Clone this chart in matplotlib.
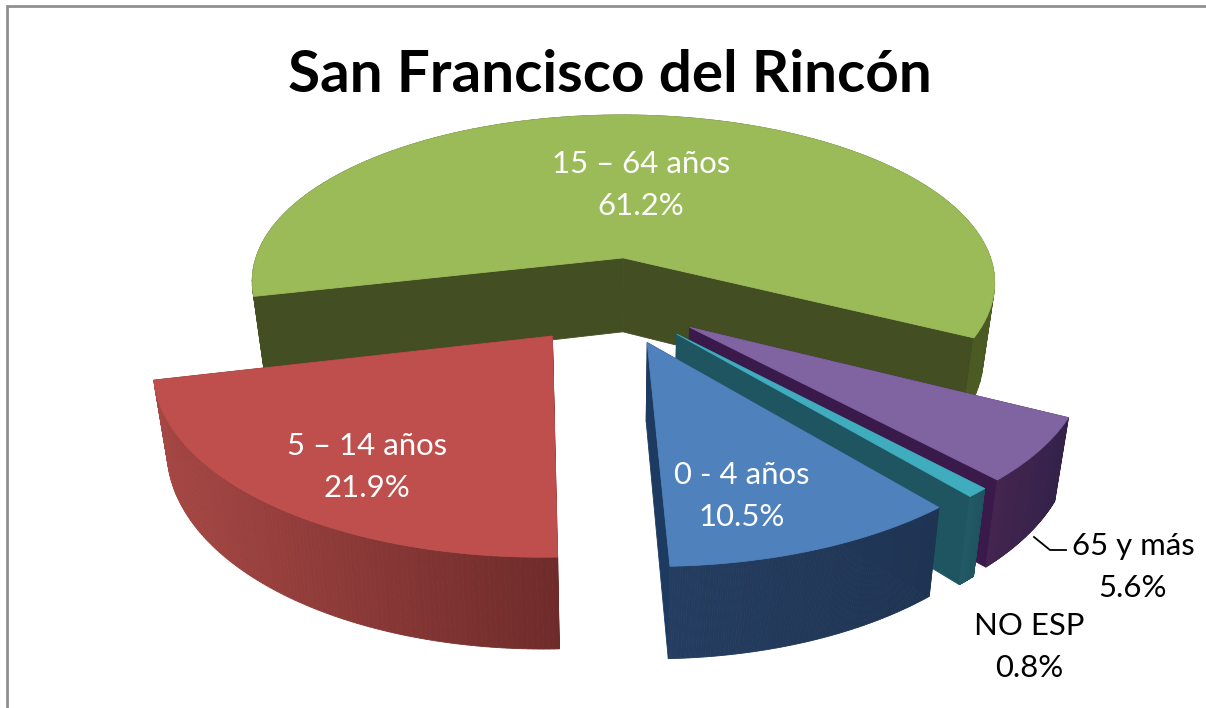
import numpy as np
import matplotlib
matplotlib.use("Agg")
import matplotlib.pyplot as plt
from matplotlib.patches import Polygon
from matplotlib.colors import to_rgb

# ---- data ----
TITLE = "San Francisco del Rincón"
categories = ["0 - 4 años", "5 – 14 años", "15 – 64 años", "65 y más", "NO ESP"]
values = [10.5, 21.9, 61.2, 5.6, 0.8]

# ---- styles ----
TOP = ["#4F81BD", "#BE4F4D", "#9BBB59", "#8064A2", "#3FADBE"]
CUT = ["#1D3B60", "#6F2C2B", "#434E23", "#3A1A4A", "#1F5560"]
RIM_L = ["#243D60", "#A64744", "#434E23", "#44254F", "#215A66"]
RIM_R = ["#1F3453", "#6E2B2A", "#4B5A22", "#33224A", "#205360"]
TEXT_COL = ["white", "white", "white", "black", "black"]
LABEL_XY = [(742, 496), (367, 467), (641, 185), (1133, 567), (1029, 647)]
DRAW_ORDER = [2, 3, 4, 0, 1]

# ---- pseudo-3D camera (pixels) ----
CX, CY, A, B, K = 612.0, 300.0, 381.0, 176.0, 0.15
EXPLODE = 0.25
START_DEG = 140.2   # clockwise from 12 o'clock, start of first category


def project(u, v):
    w = 1 + K * v
    return CX + A * u / w, CY - B * v / w


def lower(x, y):
    return CX + (x - CX) * 0.97, y + 76 + 0.06 * (y - 293)


fig = plt.figure(figsize=(12.06, 7.08), dpi=100, facecolor="white")
ax = fig.add_axes([0, 0, 1, 1])
ax.set_xlim(0, 1206)
ax.set_ylim(708, 0)
ax.axis("off")
plt.rcParams["font.family"] = ["Lato", "DejaVu Sans"]

# frame
ax.plot([7, 7, 1206], [708, 5.5, 5.5], color="#8F8F8F", lw=2, solid_joinstyle="miter")


def poly(pts, col, z):
    ax.add_patch(Polygon(pts, closed=True, facecolor=col, edgecolor=col, lw=0.6, zorder=z))


ends = START_DEG + np.cumsum(values) * 3.6
starts = ends - np.array(values) * 3.6

for rank, i in enumerate(DRAW_ORDER):
    t0, t1 = np.radians(starts[i]), np.radians(ends[i])
    mid = (t0 + t1) / 2
    ou, ov = EXPLODE * np.sin(mid), EXPLODE * np.cos(mid)
    th = np.linspace(t0, t1, 120)
    rx, ry = project(ou + np.sin(th), ov + np.cos(th))
    ax_, ay_ = project(ou, ov)
    bx, by = lower(rx, ry)
    abx, aby = lower(ax_, ay_)
    z = 2 + rank * 3
    # cut faces
    poly([(ax_, ay_), (rx[0], ry[0]), (bx[0], by[0]), (abx, aby)], CUT[i], z)
    poly([(ax_, ay_), (rx[-1], ry[-1]), (bx[-1], by[-1]), (abx, aby)], CUT[i], z)
    # rim, shaded by screen position across the wedge
    cl, cr = np.array(to_rgb(RIM_L[i])), np.array(to_rgb(RIM_R[i]))
    lo, hi = rx.min(), rx.max()
    for n in range(len(th) - 1):
        f = ((rx[n] + rx[n + 1]) / 2 - lo) / max(hi - lo, 1)
        col = tuple(cl + (cr - cl) * f)
        poly([(rx[n], ry[n]), (rx[n + 1], ry[n + 1]), (bx[n + 1], by[n + 1]), (bx[n], by[n])], col, z + 1)
    # top
    poly(np.column_stack([np.r_[ax_, rx], np.r_[ay_, ry]]), TOP[i], z + 2)

for i, (name, v) in enumerate(zip(categories, values)):
    x, y = LABEL_XY[i]
    ax.text(x, y, f"{name}\n{v:.1f}%", color=TEXT_COL[i], fontsize=22.4, ha="center", va="center",
            linespacing=1.63, family=["Lato", "DejaVu Sans"], zorder=40)

ax.plot([1034, 1050, 1066], [537, 550, 550], color="black", lw=1.3, zorder=40)
ax.text(610, 76, TITLE, color="black", fontsize=42, fontweight="bold", ha="center", va="center",
        family=["Lato", "DejaVu Sans"], zorder=40)

fig.savefig("out.png", dpi=100, facecolor="white")
